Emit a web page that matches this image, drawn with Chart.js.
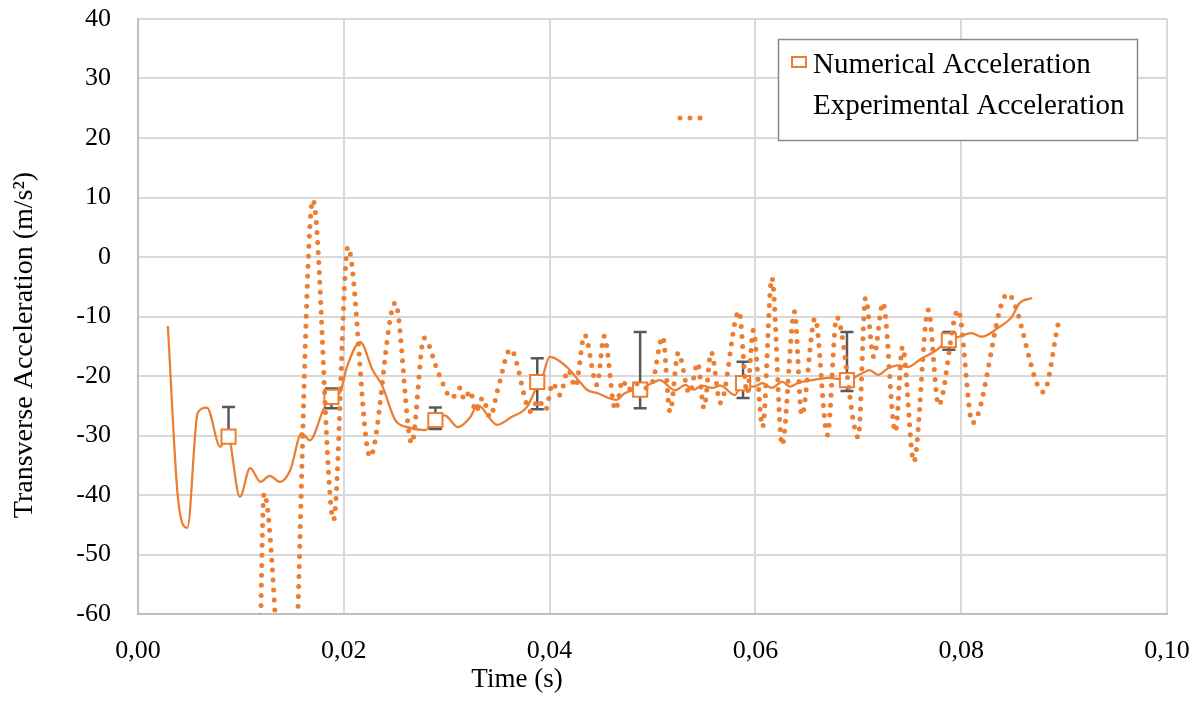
<!DOCTYPE html>
<html>
<head>
<meta charset="utf-8">
<title>Transverse Acceleration</title>
<script src="https://cdn.jsdelivr.net/npm/chart.js@4.4.1/dist/chart.umd.min.js"></script>
<style>
    html, body { margin: 0; padding: 0; background: #ffffff; }
    #accelChart { display: block; }
</style>
</head>
<body>
<canvas id="accelChart" width="1203" height="713"></canvas>
<script>
// Numerical solution (continuous curve)
const numTime = [0.0029, 0.0039, 0.0048, 0.0058, 0.0067, 0.0080, 0.0087, 0.0099, 0.0109, 0.0119,
    0.0128, 0.0138, 0.0148, 0.0159, 0.0167, 0.0180, 0.0187, 0.0196, 0.0203, 0.0216,
    0.0228, 0.0237, 0.0250, 0.0262, 0.0279, 0.0289, 0.0298, 0.0311, 0.0323, 0.0330,
    0.0349, 0.0363, 0.0378, 0.0386, 0.0393, 0.0400, 0.0408, 0.0418, 0.0428, 0.0437,
    0.0447, 0.0457, 0.0465, 0.0473, 0.0490, 0.0502, 0.0507, 0.0522, 0.0532, 0.0540,
    0.0548, 0.0558, 0.0566, 0.0580, 0.0588, 0.0598, 0.0607, 0.0616, 0.0626, 0.0634,
    0.0641, 0.0655, 0.0671, 0.0689, 0.0704, 0.0711, 0.0719, 0.0729, 0.0739, 0.0748,
    0.0762, 0.0773, 0.0782, 0.0788, 0.0798, 0.0810, 0.0820, 0.0836, 0.0849, 0.0857, 0.0869];
const numAccel = [-11.6, -40.8, -45.5, -26.2, -25.3, -31.9, -29.8, -40.3, -35.5, -37.8,
    -36.8, -37.8, -35.8, -29.6, -30.8, -25.7, -23.5, -22.9, -18.5, -14.3,
    -19.0, -21.5, -27.4, -28.6, -29.1, -27.4, -26.6, -28.6, -26.9, -24.9,
    -28.2, -26.9, -25.2, -22.4, -20.2, -16.8, -17.3, -18.7, -20.7, -22.4,
    -22.9, -23.7, -24.0, -22.9, -22.0, -21.0, -20.7, -22.4, -21.5, -22.3,
    -21.6, -22.0, -21.6, -23.2, -21.2, -21.8, -21.2, -22.0, -21.0, -21.8,
    -21.2, -20.7, -20.3, -20.7, -19.5, -19.0, -19.8, -18.7, -18.2, -18.5,
    -17.0, -16.0, -14.8, -14.0, -13.4, -12.8, -13.4, -11.9, -10.1, -7.7, -6.9];

// Numerical acceleration sampled points with error range
const sampleTime = [0.0088, 0.0188, 0.0289, 0.0388, 0.0488, 0.0588, 0.0689, 0.0788];
const sampleAccel = [-30.2, -23.5, -27.4, -21.0, -22.3, -21.2, -20.7, -14.0];
const sampleHigh = [-25.2, -22.1, -25.3, -17.0, -12.6, -17.6, -12.6, -12.6];
const sampleLow = [-31.0, -25.4, -28.9, -25.6, -25.4, -23.7, -22.5, -15.6];

// Experimental acceleration (accelerometer record)
const expTime = [0.0118, 0.01225, 0.0147, 0.0170, 0.0190, 0.0204, 0.02255, 0.0250, 0.0266, 0.0278,
    0.0292, 0.0305, 0.0313, 0.0317, 0.0323, 0.0328, 0.0335, 0.0342, 0.0350, 0.0362,
    0.0382, 0.0389, 0.0396, 0.0403, 0.0410, 0.0418, 0.0425, 0.0434, 0.0446, 0.0453,
    0.0464, 0.0471, 0.0476, 0.0483, 0.0493, 0.0500, 0.0510, 0.0517, 0.0525, 0.0536,
    0.0544, 0.0550, 0.0557, 0.0566, 0.0584, 0.0592, 0.0598, 0.0607, 0.0616, 0.0626,
    0.0638, 0.0645, 0.0658, 0.0670, 0.0679, 0.0700, 0.0707, 0.0715, 0.0724, 0.0736,
    0.0743, 0.0754, 0.0768, 0.0778, 0.0797, 0.0811, 0.0845, 0.0880, 0.0894];
const expAccel = [-72, -39.7, -90, 9.6, -44.2, 1.7, -33.6, -7.7, -31.3, -13.6,
    -19.5, -23.7, -22.0, -24.0, -22.5, -26.0, -23.7, -26.9, -22.0, -15.5,
    -26.0, -24.0, -25.7, -21.2, -23.2, -19.0, -21.8, -13.1, -21.5, -13.3,
    -25.7, -20.7, -22.4, -21.2, -22.0, -21.0, -13.4, -26.0, -16.1, -22.9,
    -17.8, -25.4, -16.0, -24.5, -9.1, -22.9, -12.3, -28.6, -3.5, -31.6,
    -9.2, -26.6, -10.3, -29.9, -10.1, -30.3, -6.9, -16.8, -7.7, -29.4,
    -15.1, -34.4, -8.9, -24.9, -8.9, -27.9, -6.2, -22.7, -11.4];

const xTicks = [0, 0.02, 0.04, 0.06, 0.08, 0.10];
const yTicks = [-60, -50, -40, -30, -20, -10, 0, 10, 20, 30, 40];

const ORANGE = "#ED7D31";
const FONT = "'Liberation Serif', 'Times New Roman', serif";

function toPoints(xs, ys) {
    return xs.map((x, i) => ({ x: x, y: ys[i] }));
}

// Error bars drawn right after the continuous curve, so the squares cover them
const errorBarPlugin = {
    id: "errorBars",
    afterDatasetDraw(chart, args) {
        if (args.index !== 2) return;
        const ctx = chart.ctx;
        const xs = chart.scales.x;
        const ys = chart.scales.y;
        ctx.save();
        ctx.strokeStyle = "#595959";
        ctx.lineWidth = 2.5;
        sampleTime.forEach((t, i) => {
            const px = xs.getPixelForValue(t);
            const top = ys.getPixelForValue(sampleHigh[i]);
            const bot = ys.getPixelForValue(sampleLow[i]);
            ctx.beginPath();
            ctx.moveTo(px, top);
            ctx.lineTo(px, bot);
            ctx.moveTo(px - 6.5, top);
            ctx.lineTo(px + 6.5, top);
            ctx.moveTo(px - 6.5, bot);
            ctx.lineTo(px + 6.5, bot);
            ctx.stroke();
        });
        ctx.restore();
    }
};

// Axis titles and the boxed legend
const decorPlugin = {
    id: "decor",
    afterDraw(chart) {
        const ctx = chart.ctx;
        const sets = chart.data.datasets;
        ctx.save();
        ctx.fillStyle = "#000000";

        ctx.font = "27px " + FONT;
        ctx.textAlign = "center";
        ctx.textBaseline = "alphabetic";
        ctx.fillText("Time (s)", 517, 687);

        ctx.save();
        ctx.font = "28px " + FONT;
        ctx.translate(25, 345);
        ctx.rotate(-Math.PI / 2);
        ctx.textBaseline = "middle";
        ctx.fillText("Transverse Acceleration (m/s²)", 0, 0);
        ctx.restore();

        // legend frame
        ctx.fillStyle = "#ffffff";
        ctx.fillRect(778.5, 39.5, 359, 101);
        ctx.strokeStyle = "#8a8a8a";
        ctx.lineWidth = 1.5;
        ctx.strokeRect(778.5, 39.5, 359, 101);

        ctx.strokeStyle = ORANGE;
        ctx.lineWidth = 2;
        ctx.strokeRect(792, 57, 14, 10);

        ctx.fillStyle = "#000000";
        ctx.font = "29px " + FONT;
        ctx.textAlign = "left";
        ctx.fillText(sets[1].label, 813, 73);
        ctx.fillText(sets[0].label, 813, 114);

        // dotted line sample for the experimental series
        ctx.strokeStyle = ORANGE;
        ctx.lineWidth = 5;
        ctx.lineCap = "round";
        ctx.setLineDash([0, 10]);
        ctx.beginPath();
        ctx.moveTo(680, 118);
        ctx.lineTo(702, 118);
        ctx.stroke();
        ctx.restore();
    }
};

document.addEventListener("DOMContentLoaded", function () {
    const ctx = document.getElementById("accelChart").getContext("2d");

    new Chart(ctx, {
        type: "line",
        data: {
            datasets: [
                {
                    label: "Experimental Acceleration",
                    data: toPoints(expTime, expAccel),
                    borderColor: ORANGE,
                    borderWidth: 5,
                    borderDash: [0, 10],
                    borderCapStyle: "round",
                    cubicInterpolationMode: "monotone",
                    pointRadius: 0,
                    fill: false
                },
                {
                    label: "Numerical Acceleration",
                    data: toPoints(sampleTime, sampleAccel),
                    showLine: false,
                    pointStyle: "rect",
                    pointRadius: 10,
                    pointBorderWidth: 2,
                    pointBorderColor: ORANGE,
                    pointBackgroundColor: "#ffffff"
                },
                {
                    label: "",
                    data: toPoints(numTime, numAccel),
                    borderColor: ORANGE,
                    borderWidth: 2.25,
                    cubicInterpolationMode: "monotone",
                    pointRadius: 0,
                    fill: false
                }
            ]
        },
        options: {
            responsive: false,
            animation: false,
            layout: { padding: { top: 19, right: 36, left: 0, bottom: 0 } },
            plugins: {
                legend: { display: false },
                tooltip: { enabled: false }
            },
            scales: {
                x: {
                    type: "linear",
                    min: xTicks[0],
                    max: xTicks[xTicks.length - 1],
                    afterBuildTicks: (scale) => { scale.ticks = xTicks.map(v => ({ value: v })); },
                    afterFit: (scale) => {
                        scale.height = 99;
                        scale.paddingLeft = 0;
                        scale.paddingRight = 0;
                    },
                    grid: { color: "#d9d9d9", lineWidth: 2, drawTicks: false },
                    border: { color: "#bfbfbf", width: 2 },
                    ticks: {
                        padding: 22,
                        color: "#000000",
                        font: { family: FONT, size: 26 },
                        maxRotation: 0,
                        callback: (v) => v.toFixed(2).replace(".", ",")
                    }
                },
                y: {
                    min: yTicks[0],
                    max: yTicks[yTicks.length - 1],
                    afterBuildTicks: (scale) => { scale.ticks = yTicks.map(v => ({ value: v })); },
                    afterFit: (scale) => {
                        scale.width = 138;
                        scale.paddingTop = 0;
                        scale.paddingBottom = 0;
                    },
                    grid: { color: "#d9d9d9", lineWidth: 2, drawTicks: false },
                    border: { color: "#bfbfbf", width: 2 },
                    ticks: {
                        padding: 27,
                        color: "#000000",
                        font: { family: FONT, size: 26 },
                        callback: (v) => String(v)
                    }
                }
            }
        },
        plugins: [errorBarPlugin, decorPlugin]
    });
});
</script>
</body>
</html>
